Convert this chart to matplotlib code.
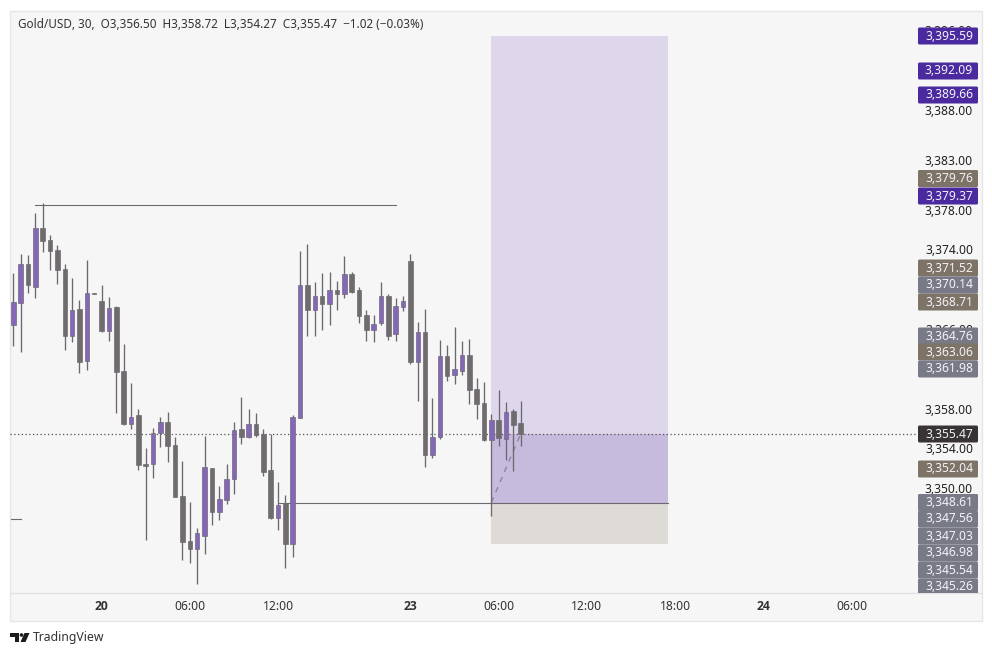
import matplotlib
matplotlib.use('Agg')
import matplotlib.pyplot as plt
from matplotlib.patches import FancyBboxPatch, Polygon, Circle, Rectangle

plt.rcParams['font.family'] = ['Noto Sans', 'DejaVu Sans']

# 30 minute candles
opens = [3366.42, 3368.63, 3372.52, 3370.24, 3376.14, 3374.94, 3373.93, 3372.02, 3365.32, 3368.00,
         3362.81, 3369.65, 3368.80, 3365.79, 3368.20, 3361.77, 3356.44, 3357.35, 3352.42, 3352.42,
         3355.51, 3356.64, 3354.33, 3349.21, 3344.69, 3343.88, 3345.22, 3352.02, 3347.60, 3348.84,
         3350.95, 3355.94, 3355.17, 3356.44, 3355.44, 3351.82, 3347.03, 3348.50, 3344.38, 3357.08,
         3370.41, 3367.93, 3369.31, 3368.50, 3369.91, 3369.51, 3371.52, 3369.91, 3367.40, 3365.89,
         3366.59, 3369.31, 3365.49, 3368.20, 3372.82, 3362.67, 3365.69, 3353.33, 3355.17, 3363.28,
         3361.40, 3361.80, 3363.38, 3359.96, 3358.55, 3354.84, 3356.84, 3354.97, 3357.75, 3356.50]
highs = [3371.65, 3373.53, 3373.43, 3377.68, 3378.68, 3375.44, 3374.43, 3372.52, 3371.12, 3368.90,
         3372.92, 3369.65, 3370.41, 3369.21, 3368.30, 3364.48, 3360.59, 3357.95, 3354.03, 3356.04,
         3357.15, 3357.65, 3355.14, 3352.72, 3348.60, 3345.99, 3355.24, 3352.02, 3350.21, 3352.42,
         3356.64, 3359.16, 3357.95, 3357.55, 3355.94, 3355.44, 3350.61, 3349.31, 3357.35, 3373.83,
         3374.53, 3370.72, 3371.62, 3371.72, 3370.81, 3373.33, 3371.72, 3370.21, 3367.90, 3367.40,
         3370.72, 3369.51, 3369.11, 3369.31, 3373.53, 3366.69, 3368.00, 3359.06, 3364.89, 3364.38,
         3366.19, 3364.79, 3364.99, 3361.07, 3360.66, 3357.45, 3359.86, 3358.65, 3357.95, 3358.72]
lows = [3364.28, 3363.68, 3369.58, 3369.11, 3373.73, 3371.92, 3370.51, 3363.88, 3364.68, 3361.60,
        3361.87, 3369.55, 3365.69, 3364.78, 3357.58, 3356.34, 3355.94, 3351.82, 3344.78, 3351.01,
        3354.13, 3352.62, 3349.11, 3342.77, 3342.47, 3340.36, 3343.38, 3346.29, 3346.79, 3348.40,
        3349.41, 3354.43, 3355.07, 3355.17, 3351.22, 3346.89, 3345.79, 3341.97, 3343.11, 3357.05,
        3365.29, 3365.29, 3365.89, 3366.39, 3367.90, 3369.11, 3369.61, 3366.59, 3364.78, 3364.68,
        3366.39, 3364.89, 3364.78, 3367.80, 3362.47, 3358.75, 3352.15, 3353.03, 3354.97, 3360.76,
        3360.46, 3361.37, 3358.45, 3356.94, 3354.74, 3347.20, 3354.26, 3352.83, 3351.72, 3354.27]
closes = [3368.70, 3372.52, 3370.44, 3376.14, 3374.86, 3373.86, 3371.95, 3365.32, 3367.90, 3362.70,
          3369.61, 3369.55, 3365.79, 3368.10, 3361.70, 3356.44, 3357.15, 3352.35, 3352.22, 3355.54,
          3356.64, 3354.23, 3349.14, 3344.59, 3343.88, 3345.49, 3352.12, 3347.60, 3348.91, 3350.92,
          3355.84, 3355.17, 3356.44, 3355.34, 3351.62, 3346.99, 3348.30, 3344.38, 3357.15, 3370.41,
          3367.93, 3369.31, 3368.50, 3369.91, 3369.51, 3371.52, 3369.71, 3367.30, 3365.89, 3366.49,
          3369.31, 3365.29, 3368.30, 3368.80, 3362.67, 3365.69, 3353.33, 3355.14, 3363.28, 3361.27,
          3361.97, 3363.38, 3359.86, 3358.45, 3354.84, 3356.84, 3355.04, 3357.65, 3356.34, 3355.47]

# axis ticks
price_ticks = [3396, 3388, 3383, 3378, 3374, 3366, 3358, 3354, 3350]
time_ticks = [12, 24, 36, 54, 66, 78, 90, 102, 114]
time_labels = ['20', '06:00', '12:00', '23', '06:00', '12:00', '18:00', '24', '06:00']
bold_labels = ['20', '23', '24']

# drawings
high_line = 3378.45
entry = 3348.55
target = 3395.45
stop = 3344.38
last_price = 3355.47
stub_price = 3346.9

# price labels on the right scale
label_prices = ['3,395.59', '3,392.09', '3,389.66', '3,379.76', '3,379.37', '3,371.52', '3,370.14',
                '3,368.71', '3,364.76', '3,363.06', '3,361.98', '3,355.47', '3,352.04', '3,348.61',
                '3,347.56', '3,347.03', '3,346.98', '3,345.54', '3,345.26']
label_colors = ['#4a2a9e', '#4a2a9e', '#4a2a9e', '#7d7366', '#4a2a9e', '#7d7366', '#787a88',
                '#7d7366', '#787a88', '#7d7366', '#787a88', '#383334', '#7d7366', '#787a88',
                '#787a88', '#787a88', '#787a88', '#787a88', '#787a88']
label_y = [36, 71, 95, 178.5, 196, 268, 285, 302, 336, 352, 369, 434, 469, 502.5, 519, 536, 553, 570, 587]

W, H = 992, 656
fig = plt.figure(figsize=(W / 100, H / 100), dpi=100, facecolor='white')

# panel behind the chart
back = fig.add_axes([0, 0, 1, 1], zorder=0)
back.set_xlim(0, W)
back.set_ylim(H, 0)
back.axis('off')
back.add_patch(Rectangle((10, 11), 972, 610, fc='#f6f6f6', ec='#e6e6e6', lw=1))
back.plot([10, 982], [593, 593], color='#e2e2e2', lw=1)

ax = fig.add_axes([10 / W, 1 - 593 / H, 888 / W, 582 / H], zorder=1)
ax.patch.set_alpha(0)
ax.set_xlim(-0.45, 120.3)
ax.set_ylim(3339.46, 3397.95)
for s in ax.spines.values():
    s.set_visible(False)

# long position box
ax.add_patch(Rectangle((65, entry), 24, target - entry, fc='#ded7eb', ec='none', zorder=1))
ax.add_patch(Rectangle((65, entry), 24, last_price - entry, fc='#c6bbdd', ec='none', zorder=1.1))
ax.add_patch(Rectangle((65, stop), 24, entry - stop, fc='#dedad6', ec='none', zorder=1))

# last price line runs up to its label on the scale
ax.plot([-0.45, 123], [last_price, last_price], color='#555158', lw=0.9, ls=(0, (1, 2)),
        zorder=1.5, clip_on=False)
ax.plot([3, 52], [high_line, high_line], color='#6c6870', lw=0.8, zorder=2)
ax.plot([36, 89], [entry, entry], color='#6c6870', lw=0.8, zorder=2)
ax.plot([-0.3, 1], [stub_price, stub_price], color='#6c6870', lw=0.8, zorder=2)
ax.plot([65, 69], [entry, last_price], color='#8d84a3', lw=1, ls=(0, (4, 4)), zorder=2)

for i in range(len(opens)):
    up = closes[i] > opens[i]
    col = '#8467b6' if up else '#706c6c'
    ax.vlines(i, lows[i], highs[i], color='#6c6870', lw=0.95, zorder=3)
    ax.bar(i, abs(closes[i] - opens[i]), bottom=min(opens[i], closes[i]), width=0.62,
           color=col, edgecolor='#6f6a78', lw=0.5, zorder=4)

ax.set_yticks(price_ticks)
ax.set_yticklabels([f'{p:,.2f}' for p in price_ticks], fontsize=8.7, color='#222222', ha='right',
                   va='center_baseline')
ax.yaxis.tick_right()
ax.tick_params(axis='y', length=0, pad=54)

ax.set_xticks(time_ticks)
ax.set_xticklabels(time_labels, fontsize=8.7, color='#333333')
for t, name in zip(ax.get_xticklabels(), time_labels):
    if name in bold_labels:
        t.set_family('Open Sans')
        t.set_fontweight('bold')
ax.tick_params(axis='x', length=0, pad=5)

# text and labels on top
top = fig.add_axes([0, 0, 1, 1], zorder=2)
top.set_xlim(0, W)
top.set_ylim(H, 0)
top.axis('off')
top.patch.set_alpha(0)

top.text(18, 24, 'Gold/USD, 30,  O3,356.50  H3,358.72  L3,354.27  C3,355.47  \u22121.02 (\u22120.03%)',
         fontsize=8.45, color='#333333', va='center', ha='left')

# label boxes stop at the bottom of the scale
scale_clip = Rectangle((0, 0), W, 593, transform=top.transData)
for txt, col, y in zip(label_prices, label_colors, label_y):
    box = FancyBboxPatch((918, y - 8.5), 60, 17, boxstyle='round,pad=0,rounding_size=1.5',
                         fc=col, ec='none', mutation_aspect=1)
    top.add_patch(box)
    box.set_clip_path(scale_clip)
    top.text(973, y, txt, fontsize=8.7, color='#f4f2f8', ha='right', va='center')

# TradingView logo
top.add_patch(Polygon([(10, 633), (19, 633), (19, 642), (14.5, 642), (14.5, 636.5), (10, 636.5)], fc='#1c1c1c', ec='none'))
top.add_patch(Circle((21.5, 635), 1.8, fc='#1c1c1c', ec='none'))
top.add_patch(Polygon([(24.5, 633), (29.5, 633), (25.5, 642), (20.5, 642)], fc='#1c1c1c', ec='none'))
top.text(33, 638, 'TradingView', fontsize=8.8, color='#333333', va='center', ha='left')

fig.savefig('out.png', dpi=100, facecolor='white')
